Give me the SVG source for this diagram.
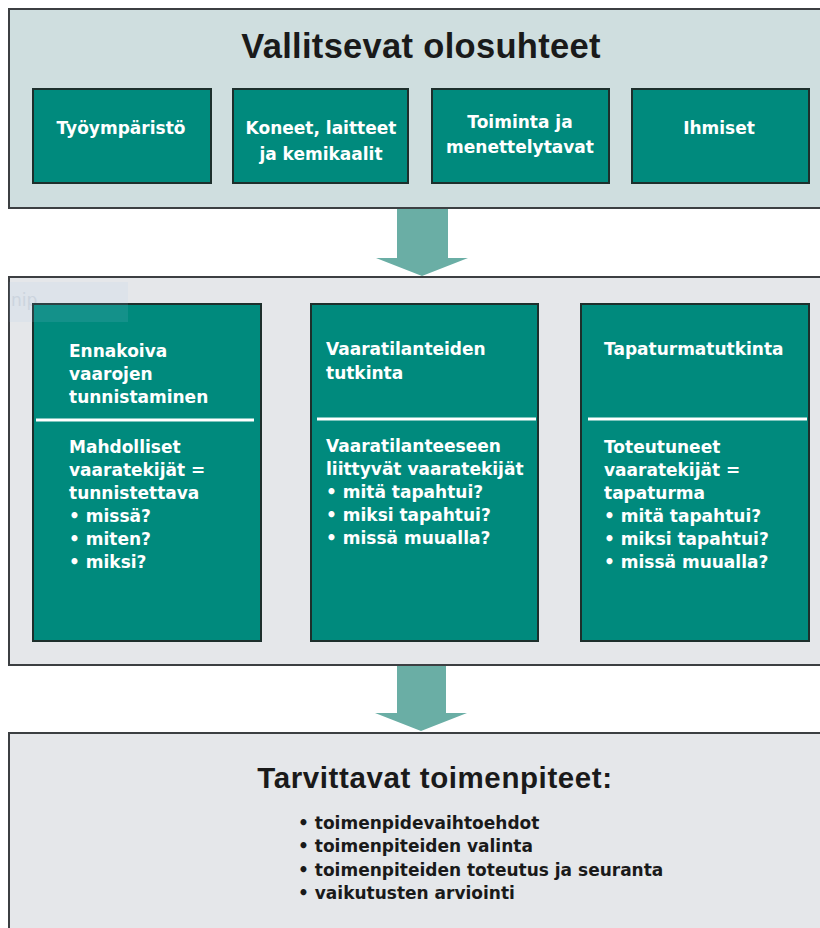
<svg xmlns="http://www.w3.org/2000/svg" width="820" height="928" viewBox="0 0 820 928">
<style>
.panel{stroke:#3c3f42;stroke-width:2}
.box{fill:#008a7d;stroke:#1d2f2c;stroke-width:2}
.bt{font-family:"DejaVu Sans",sans-serif;font-weight:bold;font-size:17px;fill:#ffffff}
.ct{font-family:"DejaVu Sans",sans-serif;font-weight:bold;font-size:17px;fill:#ffffff;text-anchor:middle}
.title{font-family:"Liberation Sans",Arial,sans-serif;font-weight:bold;fill:#1a1a1a;text-anchor:middle}
.dt{font-family:"DejaVu Sans",sans-serif;font-weight:bold;font-size:17px;fill:#1a1a1a}
.div{stroke:#ffffff;stroke-width:3}
.arrow{fill:#6aaea5}
</style>
<rect x="0" y="0" width="820" height="928" fill="#ffffff"/>

<g id="top-panel">
  <rect class="panel" x="9" y="9" width="820" height="199" fill="#cfdedf"/>
  <text class="title" x="421" y="58" font-size="34.5" letter-spacing="0.3">Vallitsevat olosuhteet</text>
</g>
<g id="tyoymparisto">
  <rect class="box" x="33" y="89" width="178" height="94"/>
  <text class="ct" x="121" y="134">Työympäristö</text>
</g>
<g id="koneet">
  <rect class="box" x="233" y="89" width="175" height="94"/>
  <text class="ct" x="321" y="134">Koneet, laitteet</text>
  <text class="ct" x="321" y="160">ja kemikaalit</text>
</g>
<g id="toiminta">
  <rect class="box" x="432" y="89" width="177" height="94"/>
  <text class="ct" x="520" y="128">Toiminta ja</text>
  <text class="ct" x="520" y="153">menettelytavat</text>
</g>
<g id="ihmiset">
  <rect class="box" x="632" y="89" width="177" height="94"/>
  <text class="ct" x="719" y="134">Ihmiset</text>
</g>

<g id="middle-panel">
  <rect class="panel" x="9" y="277" width="820" height="388" fill="#e5e7ea"/>
  <text x="11" y="306" font-family="DejaVu Sans,sans-serif" font-size="17" fill="#d2d7dc">nip</text>
</g>
<g id="ennakoiva">
  <rect class="box" x="33" y="304" width="228" height="337"/>
  <text class="bt" x="69" y="357">Ennakoiva</text>
  <text class="bt" x="69" y="380">vaarojen</text>
  <text class="bt" x="69" y="403">tunnistaminen</text>
  <line class="div" x1="36" y1="420" x2="254" y2="420"/>
  <text class="bt" x="69" y="453">Mahdolliset</text>
  <text class="bt" x="69" y="476">vaaratekijät =</text>
  <text class="bt" x="69" y="499">tunnistettava</text>
  <text class="bt" x="69" y="522">• missä?</text>
  <text class="bt" x="69" y="545">• miten?</text>
  <text class="bt" x="69" y="568">• miksi?</text>
</g>
<g id="vaaratilanteiden">
  <rect class="box" x="311" y="304" width="227" height="337"/>
  <text class="bt" x="326" y="355">Vaaratilanteiden</text>
  <text class="bt" x="326" y="379">tutkinta</text>
  <line class="div" x1="317" y1="419" x2="536" y2="419"/>
  <text class="bt" x="326" y="452">Vaaratilanteeseen</text>
  <text class="bt" x="326" y="475">liittyvät vaaratekijät</text>
  <text class="bt" x="326" y="498">• mitä tapahtui?</text>
  <text class="bt" x="326" y="521">• miksi tapahtui?</text>
  <text class="bt" x="326" y="544">• missä muualla?</text>
</g>
<g id="tapaturmatutkinta">
  <rect class="box" x="581" y="304" width="228" height="337"/>
  <text class="bt" x="604" y="355">Tapaturmatutkinta</text>
  <line class="div" x1="588" y1="419" x2="807" y2="419"/>
  <text class="bt" x="604" y="453">Toteutuneet</text>
  <text class="bt" x="604" y="476">vaaratekijät =</text>
  <text class="bt" x="604" y="499">tapaturma</text>
  <text class="bt" x="604" y="522">• mitä tapahtui?</text>
  <text class="bt" x="604" y="545">• miksi tapahtui?</text>
  <text class="bt" x="604" y="568">• missä muualla?</text>
</g>
<rect x="9" y="282" width="119" height="40" fill="#a8c8ec" opacity="0.12"/>

<g id="bottom-panel">
  <rect class="panel" x="9" y="733" width="820" height="220" fill="#e5e7ea"/>
  <text class="title" x="435" y="788" font-size="29.5" letter-spacing="0.6">Tarvittavat toimenpiteet:</text>
  <text class="dt" x="298" y="829">• toimenpidevaihtoehdot</text>
  <text class="dt" x="298" y="852">• toimenpiteiden valinta</text>
  <text class="dt" x="298" y="876">• toimenpiteiden toteutus ja seuranta</text>
  <text class="dt" x="298" y="899">• vaikutusten arviointi</text>
</g>

<g id="connectors">
  <polygon class="arrow" points="397,209 448,209 448,258 468,258 422,276 376,258 397,258"/>
  <polygon class="arrow" points="397,666 446,666 446,713 467,713 421,731 375,713 397,713"/>
</g>
</svg>
